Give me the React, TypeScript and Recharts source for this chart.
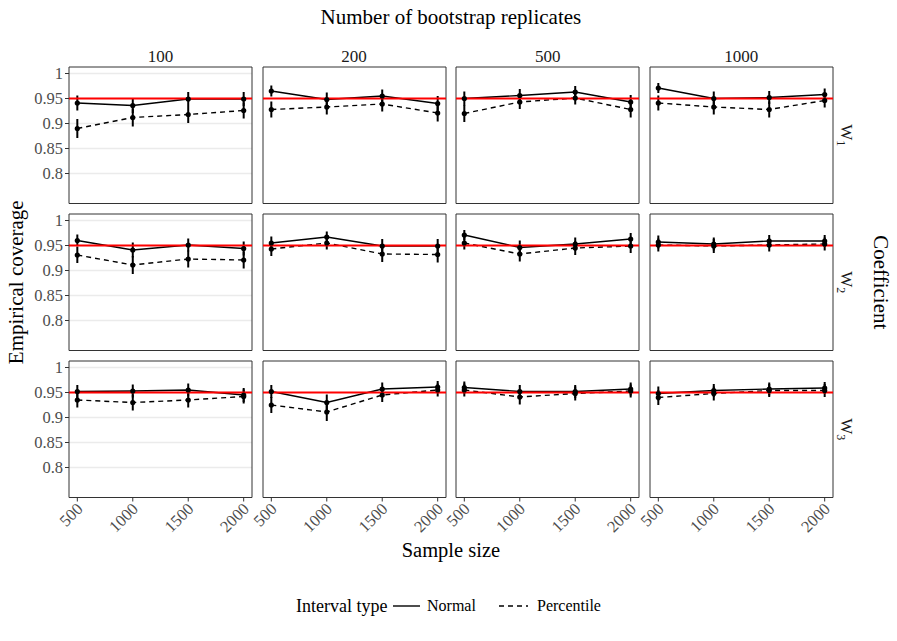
import React from "react";
import {
  ComposedChart,
  Line,
  XAxis,
  YAxis,
  CartesianGrid,
  ReferenceLine,
  ReferenceArea,
  ErrorBar,
} from "recharts";

// facets
const sampleSizes = [500, 1000, 1500, 2000];
const replicates = ["100", "200", "500", "1000"];
const coefficients = ["1", "2", "3"];
const intervalTypes = ["Normal", "Percentile"];
const yTicks = [0.8, 0.85, 0.9, 0.95, 1];
const yTickLabels = ["0.8", "0.85", "0.9", "0.95", "1"];
const nominal = 0.95;

// empirical coverage, one inner array per replicates column (100, 200, 500, 1000)
const normalW1 = [
  [0.941, 0.936, 0.949, 0.949],
  [0.965, 0.948, 0.955, 0.94],
  [0.95, 0.956, 0.963, 0.943],
  [0.971, 0.95, 0.952, 0.958],
];
const percentileW1 = [
  [0.89, 0.912, 0.918, 0.926],
  [0.928, 0.933, 0.939, 0.921],
  [0.92, 0.943, 0.951, 0.928],
  [0.941, 0.933, 0.928, 0.946],
];
const normalW2 = [
  [0.96, 0.941, 0.951, 0.944],
  [0.955, 0.967, 0.949, 0.949],
  [0.971, 0.946, 0.953, 0.963],
  [0.957, 0.953, 0.959, 0.959],
];
const percentileW2 = [
  [0.931, 0.911, 0.923, 0.921],
  [0.943, 0.955, 0.933, 0.932],
  [0.955, 0.933, 0.945, 0.949],
  [0.951, 0.949, 0.951, 0.953],
];
const normalW3 = [
  [0.952, 0.953, 0.955, 0.945],
  [0.952, 0.93, 0.957, 0.961],
  [0.96, 0.952, 0.952, 0.957],
  [0.948, 0.954, 0.957, 0.959],
];
const percentileW3 = [
  [0.935, 0.93, 0.935, 0.942],
  [0.925, 0.911, 0.945, 0.955],
  [0.955, 0.941, 0.948, 0.953],
  [0.94, 0.948, 0.954, 0.954],
];

// half-widths of the error bars
const normalErrW1 = [
  [0.015, 0.015, 0.014, 0.014],
  [0.011, 0.014, 0.013, 0.015],
  [0.014, 0.013, 0.012, 0.014],
  [0.01, 0.014, 0.013, 0.012],
];
const percentileErrW1 = [
  [0.019, 0.018, 0.017, 0.016],
  [0.016, 0.015, 0.015, 0.017],
  [0.017, 0.014, 0.013, 0.016],
  [0.015, 0.015, 0.016, 0.014],
];
const normalErrW2 = [
  [0.012, 0.015, 0.013, 0.014],
  [0.013, 0.011, 0.014, 0.014],
  [0.01, 0.014, 0.013, 0.012],
  [0.013, 0.013, 0.012, 0.012],
];
const percentileErrW2 = [
  [0.016, 0.018, 0.017, 0.017],
  [0.014, 0.013, 0.016, 0.016],
  [0.013, 0.015, 0.014, 0.014],
  [0.013, 0.014, 0.013, 0.013],
];
const normalErrW3 = [
  [0.013, 0.013, 0.013, 0.014],
  [0.013, 0.016, 0.013, 0.012],
  [0.012, 0.013, 0.013, 0.013],
  [0.014, 0.013, 0.013, 0.012],
];
const percentileErrW3 = [
  [0.015, 0.016, 0.015, 0.014],
  [0.016, 0.018, 0.014, 0.013],
  [0.013, 0.015, 0.014, 0.013],
  [0.015, 0.014, 0.013, 0.013],
];

const normalRows = [normalW1, normalW2, normalW3];
const percentileRows = [percentileW1, percentileW2, percentileW3];
const normalErrRows = [normalErrW1, normalErrW2, normalErrW3];
const percentileErrRows = [percentileErrW1, percentileErrW2, percentileErrW3];

const FONT = '"Liberation Serif", "DejaVu Serif", serif';
const GRAY20 = "#333333";
const GRAY30 = "#4d4d4d";

// layout
const PANEL_X0 = 69;
const PANEL_DX = 193.6;
const PANEL_W = 183;
const PANEL_Y0 = 67;
const PANEL_DY = 147;
const PANEL_H = 136.5;
const ML = 50;
const MT = 6;
const MR = 6;
const MB = 50;
const X_DOMAIN = [425, 2075];
const Y_DOMAIN = [0.74, 1.013];
const TICK_SIZE = 16.5;

const XTick = (props: any) => {
  const { x, y, payload } = props;
  return (
    <g transform={`translate(${x},${y}) rotate(-45)`}>
      <text x={0} y={0} dy="0.55em" textAnchor="end" fontSize={TICK_SIZE} fill={GRAY30} fontFamily={FONT}>
        {payload.value}
      </text>
    </g>
  );
};

function Panel({ row, col }: { row: number; col: number }) {
  const data = sampleSizes.map((n, i) => ({
    n,
    normal: normalRows[row][col][i],
    percentile: percentileRows[row][col][i],
    normalErr: normalErrRows[row][col][i],
    percentileErr: percentileErrRows[row][col][i],
  }));
  const firstCol = col === 0;
  const lastRow = row === coefficients.length - 1;
  const left = PANEL_X0 + col * PANEL_DX - ML;
  const top = PANEL_Y0 + row * PANEL_DY - MT;

  return (
    <div style={{ position: "absolute", left, top }}>
      <ComposedChart
        width={ML + PANEL_W + MR}
        height={MT + PANEL_H + MB}
        data={data}
        margin={{ top: MT, right: MR, left: 0, bottom: 0 }}
      >
        <CartesianGrid vertical={false} stroke="#ebebeb" strokeWidth={1.3} horizontalValues={yTicks} />
        <XAxis
          type="number"
          dataKey="n"
          domain={X_DOMAIN}
          ticks={sampleSizes}
          allowDataOverflow
          height={MB}
          axisLine={false}
          tickLine={lastRow ? { stroke: GRAY20, strokeWidth: 1 } : false}
          tickSize={4}
          tick={lastRow ? <XTick /> : false}
          interval={0}
        />
        <YAxis
          type="number"
          domain={Y_DOMAIN}
          ticks={yTicks}
          allowDataOverflow
          width={ML}
          axisLine={false}
          tickLine={firstCol ? { stroke: GRAY20, strokeWidth: 1 } : false}
          tickSize={4}
          tickMargin={2}
          tickFormatter={(v: number) => yTickLabels[yTicks.indexOf(v)] ?? String(v)}
          tick={firstCol ? { fontSize: TICK_SIZE, fill: GRAY30, fontFamily: FONT } : false}
          interval={0}
        />
        <Line
          dataKey="percentile"
          name={intervalTypes[1]}
          stroke="#000"
          strokeWidth={1.4}
          strokeDasharray="5 4"
          dot={{ r: 2.6, fill: "#000", stroke: "none" }}
          activeDot={false}
          isAnimationActive={false}
        >
          <ErrorBar dataKey="percentileErr" width={0} stroke="#000" strokeWidth={2} direction="y" />
        </Line>
        <Line
          dataKey="normal"
          name={intervalTypes[0]}
          stroke="#000"
          strokeWidth={1.4}
          dot={{ r: 2.6, fill: "#000", stroke: "none" }}
          activeDot={false}
          isAnimationActive={false}
        >
          <ErrorBar dataKey="normalErr" width={0} stroke="#000" strokeWidth={2} direction="y" />
        </Line>
        <ReferenceLine y={nominal} stroke="#ff0000" strokeWidth={2} />
        <ReferenceArea
          x1={X_DOMAIN[0]}
          x2={X_DOMAIN[1]}
          y1={Y_DOMAIN[0]}
          y2={Y_DOMAIN[1]}
          fill="none"
          stroke={GRAY20}
          strokeWidth={1}
          ifOverflow="visible"
        />
      </ComposedChart>
    </div>
  );
}

export default function App() {
  const panelsRight = PANEL_X0 + (replicates.length - 1) * PANEL_DX + PANEL_W;
  const centerX = (PANEL_X0 + panelsRight) / 2;
  const panelsBottom = PANEL_Y0 + (coefficients.length - 1) * PANEL_DY + PANEL_H;
  const centerY = (PANEL_Y0 + panelsBottom) / 2;

  return (
    <div
      style={{
        position: "absolute",
        left: 0,
        top: 0,
        width: 897,
        height: 641,
        background: "#fff",
        fontFamily: FONT,
        overflow: "hidden",
      }}
    >
      {coefficients.map((_, r) =>
        replicates.map((_, c) => <Panel key={`${r}-${c}`} row={r} col={c} />)
      )}
      <svg
        width={897}
        height={641}
        style={{ position: "absolute", left: 0, top: 0, pointerEvents: "none" }}
        fontFamily={FONT}
      >
        <text x={centerX} y={24} textAnchor="middle" fontSize={21} fill="#000">
          Number of bootstrap replicates
        </text>
        {replicates.map((lab, c) => (
          <text
            key={lab}
            x={PANEL_X0 + c * PANEL_DX + PANEL_W / 2}
            y={62}
            textAnchor="middle"
            fontSize={17}
            fill="#1a1a1a"
          >
            {lab}
          </text>
        ))}
        {coefficients.map((sub, r) => (
          <text
            key={sub}
            transform={`translate(${panelsRight + 8},${PANEL_Y0 + r * PANEL_DY + PANEL_H / 2}) rotate(90)`}
            textAnchor="middle"
            fontSize={17}
            fill="#1a1a1a"
          >
            W
            <tspan fontSize={12} dy={4}>
              {sub}
            </tspan>
          </text>
        ))}
        <text
          transform={`translate(874,${centerY}) rotate(90)`}
          textAnchor="middle"
          fontSize={21}
          fill="#000"
        >
          Coefficient
        </text>
        <text
          transform={`translate(23,${centerY}) rotate(-90)`}
          textAnchor="middle"
          fontSize={21}
          fill="#000"
        >
          Empirical coverage
        </text>
        <text x={centerX} y={557} textAnchor="middle" fontSize={20.5} fill="#000">
          Sample size
        </text>
        {/* legend */}
        <text x={296} y={612} fontSize={18} fill="#000">
          Interval type
        </text>
        <line x1={393} x2={420} y1={606} y2={606} stroke="#000" strokeWidth={1.4} />
        <text x={427} y={611} fontSize={16} fill="#000">
          {intervalTypes[0]}
        </text>
        <line x1={499} x2={528} y1={606} y2={606} stroke="#000" strokeWidth={1.4} strokeDasharray="5 4" />
        <text x={537} y={611} fontSize={16} fill="#000">
          {intervalTypes[1]}
        </text>
      </svg>
    </div>
  );
}
